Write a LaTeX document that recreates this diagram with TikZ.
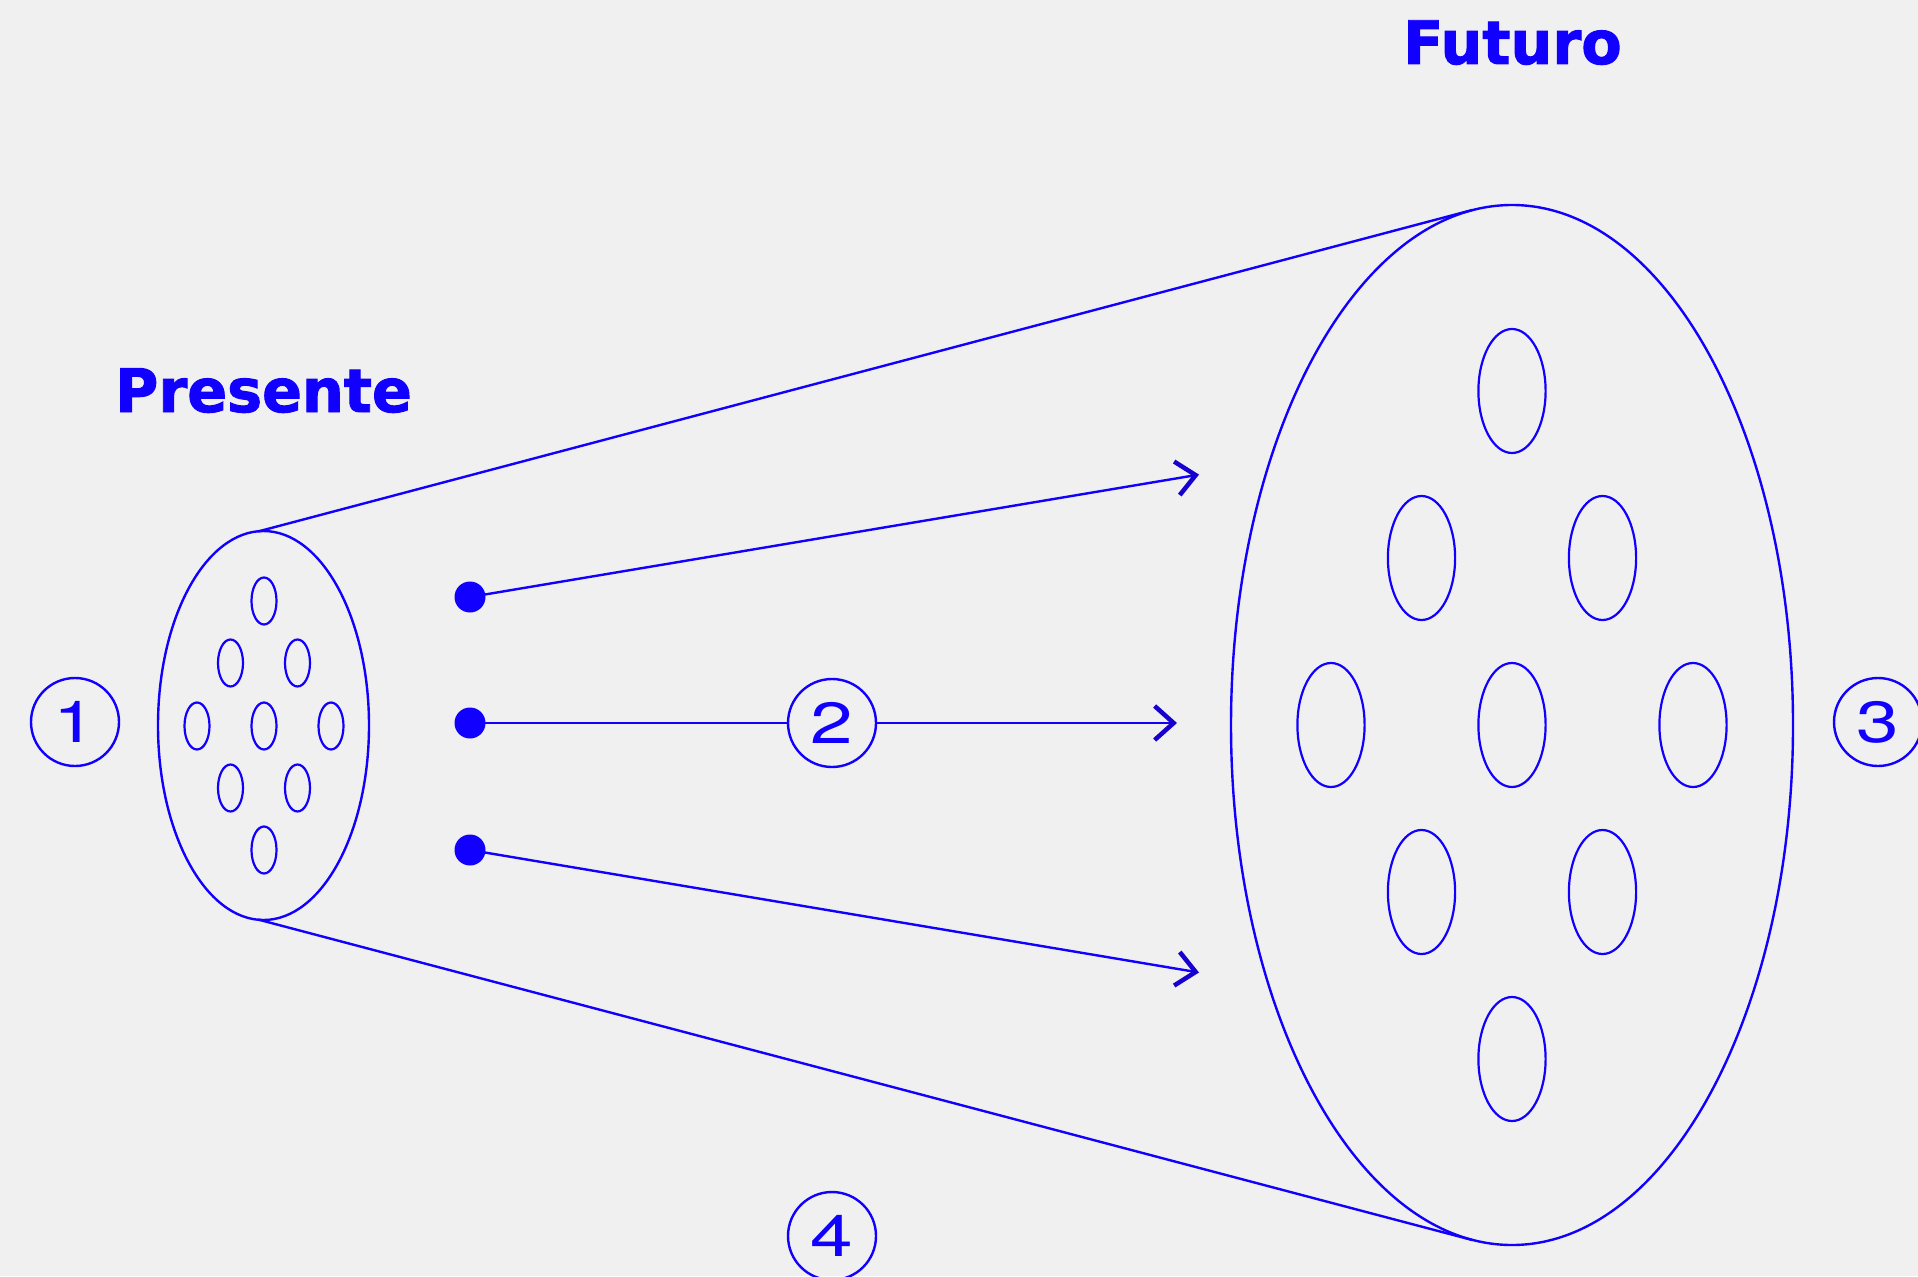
\documentclass[tikz,border=0pt]{standalone}
\usepackage{fontspec}
\usetikzlibrary{arrows.meta}
\newfontfamily\titlefont{DejaVu Sans Bold}[FakeStretch=0.98,FakeBold=1.6]
\newfontfamily\numfont{TeX Gyre Heros}[FakeStretch=1.32]
\definecolor{bg}{RGB}{240,240,240}
\definecolor{bl}{RGB}{18,0,255}
\definecolor{ahead}{RGB}{22,0,205}
\tikzset{
  ln/.style={draw=bl, line width=2.4pt},
  title/.style={text=bl, font=\titlefont\fontsize{60pt}{72pt}\selectfont, inner sep=0pt, anchor=base west},
  numcircle/.style={circle, draw=bl, line width=2.4pt, minimum size=88pt, inner sep=0pt, text=bl, font=\numfont\fontsize{58pt}{60pt}\selectfont},
  dotnode/.style={circle, fill=bl, minimum size=31pt, inner sep=0pt},
  arr/.style={ln, -{Straight Barb[length=19pt,width=34pt,line width=4.5pt,color=ahead]}},
}
\begin{document}
\begin{tikzpicture}[x=1pt,y=-1pt]
\fill[bg] (0,0) rectangle (1918,1276);
\useasboundingbox (0,0) rectangle (1918,1276);

% titles
\node[title] (futuro) at (1403,64) {Futuro};
\node[title] (presente) at (115,412) {Presente};

% small ellipse (present)
\draw[ln] (263.5,725.5) ellipse [x radius=105.5, y radius=194.5];
\foreach \x/\y in {264/601, 230.5/663, 297.5/663, 197/726, 264/726, 331/726, 230.5/788, 297.5/788, 264/850}
  \draw[ln, line width=2.2pt] (\x,\y) ellipse [x radius=12.5, y radius=23.5];

% big ellipse (future)
\draw[ln] (1512,725) ellipse [x radius=281, y radius=520];
\foreach \x/\y in {1512/391, 1421.5/558, 1602.5/558, 1331/725, 1512/725, 1693/725, 1421.5/892, 1602.5/892, 1512/1059}
  \draw[ln, line width=2.2pt] (\x,\y) ellipse [x radius=33.6, y radius=62];

% tangent lines
\coordinate (st) at (258,531.5);
\coordinate (sb) at (258,919.5);
\coordinate (bt) at (1472.3,210);
\coordinate (bb) at (1472.3,1240);
\draw[ln] (st) -- (bt);
\draw[ln] (sb) -- (bb);

% numbered circles
\node[numcircle] (c1) at (75,722) {1};
\node[numcircle] (c2) at (832,723) {2};
\node[numcircle] (c3) at (1878,722) {3};
\node[numcircle] (c4) at (832,1236) {4};

% dots and arrows
\node[dotnode] (d1) at (470,597) {};
\node[dotnode] (d2) at (470,723) {};
\node[dotnode] (d3) at (470,850) {};
\coordinate (t1) at (1199,474.6);
\coordinate (t2) at (1177,723);
\coordinate (t3) at (1199,972.5);
\draw[arr] (d1.center) -- (t1);
\draw[ln] (d2.center) -- (c2);
\draw[arr] (c2) -- (t2);
\draw[arr] (d3.center) -- (t3);
\end{tikzpicture}
\end{document}
